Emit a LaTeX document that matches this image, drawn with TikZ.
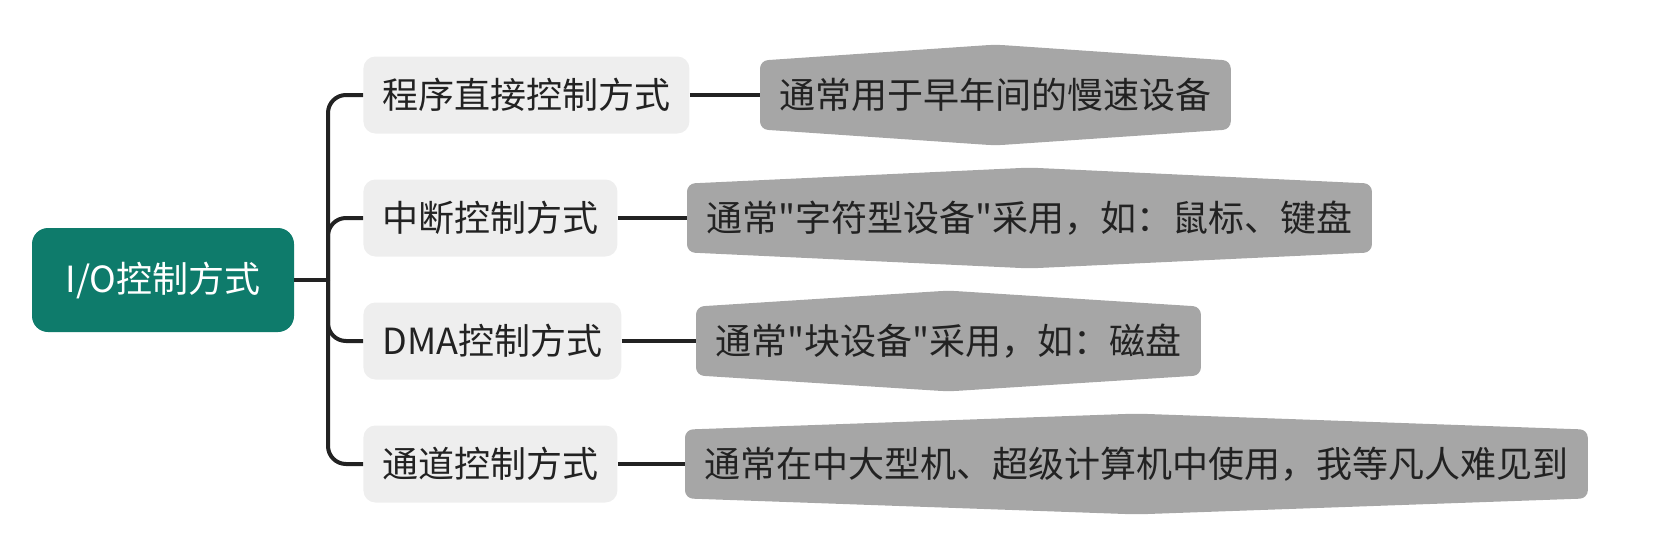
\documentclass[tikz,border=0pt]{standalone}
\usepackage{fontspec}
\setmainfont{Noto Sans CJK SC}[Ligatures=TeXOff]
\usetikzlibrary{positioning,calc,backgrounds}
\definecolor{rootteal}{HTML}{0E7B6B}
\definecolor{branchgray}{HTML}{EEEEEE}
\definecolor{leafgray}{HTML}{A6A6A6}
\definecolor{inkdark}{HTML}{222222}

\begin{document}
\begin{tikzpicture}[x=0.5pt, y=-0.5pt, font=\fontsize{18pt}{21pt}\selectfont,
  conn/.style={draw=inkdark, line width=2pt},
  rootbox/.style={fill=rootteal, text=white, rounded corners=8pt, minimum width=131pt, minimum height=52pt},
  branch/.style={fill=branchgray, text=inkdark, rounded corners=6pt, inner xsep=9.5pt, minimum height=38.5pt, anchor=west},
  leaf/.style={text=inkdark, inner xsep=9.5pt, minimum height=34pt, anchor=west}]
  \useasboundingbox (0,0) rectangle (1654,557);
  % root and trunk
  \node[rootbox] (root) at (163,280) {I/O控制方式};
  \coordinate (trunk) at (328,280);
  % control modes
  \node[branch] (b1) at (363,95)  {程序直接控制方式};
  \node[branch] (b2) at (363,218) {中断控制方式};
  \node[branch] (b3) at (363,341) {DMA控制方式};
  \node[branch] (b4) at (363,464) {通道控制方式};
  % notes
  \node[leaf] (l1) at (760,95)  {通常用于早年间的慢速设备};
  \node[leaf] (l2) at (687,218) {通常"字符型设备"采用，如：鼠标、键盘};
  \node[leaf] (l3) at (696,341) {通常"块设备"采用，如：磁盘};
  \node[leaf] (l4) at (685,464) {通常在中大型机、超级计算机中使用，我等凡人难见到};
  \begin{scope}[on background layer]
    \foreach \n in {l1,l2,l3,l4}
      \fill[leafgray, rounded corners=4pt] (\n.north west) -- ($(\n.north)+(0,-16)$) -- (\n.north east)
        -- (\n.south east) -- ($(\n.south)+(0,16)$) -- (\n.south west) -- cycle;
  \end{scope}
  % connectors
  \draw[conn] (root.east) -- (trunk);
  \foreach \b in {b1,b2,b3,b4}
    \draw[conn, rounded corners=9pt] (trunk) |- (\b.west);
  \draw[conn] (b1) -- (l1); \draw[conn] (b2) -- (l2);
  \draw[conn] (b3) -- (l3); \draw[conn] (b4) -- (l4);
\end{tikzpicture}
\end{document}
